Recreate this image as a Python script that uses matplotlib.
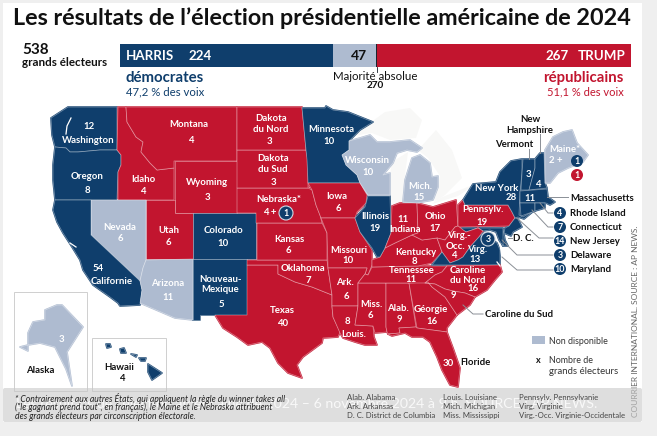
import matplotlib
matplotlib.use('Agg')
import matplotlib.pyplot as plt
from matplotlib.patches import Polygon, Circle, Rectangle, FancyBboxPatch

BLUE = '#0f3e6c'
RED = '#c2152f'
GREY = '#aebbd0'
colors = {'D': BLUE, 'R': RED, 'N': GREY}

plt.rcParams['font.family'] = ['Lato', 'DejaVu Sans']

# resultats
bar_names = ['HARRIS', 'Non disponible', 'TRUMP']
bar_votes = [224, 47, 267]
bar_colors = [BLUE, GREY, RED]
total_votes = 538
majority = 270

winner = {
    'WA': 'D', 'OR': 'D', 'CA': 'D', 'CO': 'D', 'NM': 'D', 'MN': 'D', 'IL': 'D', 'NY': 'D',
    'VT': 'D', 'NH': 'D', 'MA': 'D', 'RI': 'D', 'CT': 'D', 'NJ': 'D', 'DE': 'D', 'MD': 'D',
    'VA': 'D', 'HI1': 'D', 'HI2': 'D', 'HI3': 'D', 'HI4': 'D', 'HI5': 'D',
    'NV': 'N', 'AZ': 'N', 'WI': 'N', 'MI': 'N', 'ME': 'N', 'AK': 'N',
    'ID': 'R', 'MT': 'R', 'WY': 'R', 'UT': 'R', 'ND': 'R', 'SD': 'R', 'NE': 'R', 'KS': 'R',
    'OK': 'R', 'TX': 'R', 'IA': 'R', 'MO': 'R', 'AR': 'R', 'LA': 'R', 'MS': 'R', 'AL': 'R',
    'GA': 'R', 'FL': 'R', 'TN': 'R', 'KY': 'R', 'IN': 'R', 'OH': 'R', 'WV': 'R', 'PA': 'R',
    'NC': 'R', 'SC': 'R',
}

# contours des Etats, en pixels de la carte
shapes = {
    'WA': [(68, 107), (117, 107), (117, 150), (100, 150), (78, 152), (70, 152), (66, 148), (55, 147), (52, 135), (51, 118)],
    'OR': [(55, 147), (66, 148), (70, 152), (78, 152), (100, 150), (117, 150), (121, 155), (121, 165), (118, 172), (117, 200), (55, 200), (53, 180), (53, 165)],
    'ID': [(118, 107), (126, 107), (127, 122), (136, 137), (143, 142), (141, 152), (150, 163), (157, 170), (174, 168), (174, 200), (118, 200), (118, 172), (121, 165), (121, 155), (117, 150)],
    'MT': [(126, 107), (237, 107), (237, 161), (174, 161), (174, 168), (157, 170), (150, 163), (141, 152), (143, 142), (136, 137), (127, 122)],
    'WY': [(175, 161), (237, 161), (237, 213), (175, 213)],
    'UT': [(146, 200), (175, 200), (175, 213), (193, 213), (193, 259), (146, 259)],
    'CO': [(193, 213), (256, 213), (256, 259), (193, 259)],
    'NV': [(91, 200), (146, 200), (146, 260), (143, 268), (140, 281), (91, 235)],
    'CA': [(55, 200), (91, 200), (91, 235), (140, 281), (142, 290), (140, 305), (120, 306), (118, 303), (110, 297), (93, 285), (83, 270), (80, 260), (72, 247), (63, 233), (57, 222), (53, 210)],
    'AZ': [(146, 260), (193, 259), (193, 320), (175, 318), (140, 303), (142, 290), (140, 281), (143, 268)],
    'NM': [(193, 259), (247, 259), (247, 315), (200, 315), (200, 320), (193, 320)],
    'TX': [(247, 265), (278, 265), (278, 274), (295, 282), (312, 287), (332, 295), (332, 307), (333, 317), (340, 332), (338, 337), (323, 338), (322, 343), (303, 357), (297, 365), (302, 378), (288, 373), (278, 363), (270, 348), (262, 342), (248, 345), (237, 337), (223, 328), (215, 315), (247, 315)],
    'OK': [(247, 260), (327, 260), (328, 268), (332, 295), (312, 287), (295, 282), (278, 274), (278, 265), (247, 265)],
    'KS': [(257, 223), (322, 223), (327, 233), (327, 260), (257, 260)],
    'NE': [(237, 188), (308, 188), (312, 190), (316, 205), (320, 215), (322, 223), (256, 223), (256, 213), (237, 213)],
    'SD': [(237, 150), (306, 150), (308, 160), (308, 188), (237, 188)],
    'ND': [(237, 107), (302, 107), (306, 150), (237, 150)],
    'MN': [(302, 108), (325, 108), (326, 106), (333, 110), (348, 112), (373, 122), (360, 130), (349, 141), (349, 150), (342, 155), (346, 165), (357, 175), (360, 183), (308, 183), (307, 160), (306, 150)],
    'IA': [(308, 183), (360, 183), (367, 195), (366, 203), (357, 212), (355, 218), (321, 218), (316, 205), (312, 190)],
    'MO': [(321, 218), (355, 218), (360, 232), (372, 250), (372, 265), (368, 275), (365, 274), (367, 268), (328, 268), (327, 233)],
    'AR': [(328, 268), (367, 268), (365, 274), (358, 283), (358, 306), (332, 306), (332, 295)],
    'LA': [(332, 306), (358, 306), (355, 325), (373, 326), (374, 337), (377, 345), (365, 345), (355, 342), (343, 338), (340, 333), (333, 317)],
    'MS': [(358, 283), (386, 283), (386, 327), (387, 332), (375, 333), (373, 326), (355, 325), (358, 306)],
    'AL': [(386, 283), (409, 283), (416, 327), (399, 328), (400, 333), (388, 334), (387, 332), (386, 327)],
    'GA': [(409, 283), (428, 282), (432, 287), (445, 297), (457, 315), (447, 328), (447, 332), (417, 328)],
    'FL': [(388, 334), (400, 333), (399, 328), (416, 327), (417, 328), (447, 332), (453, 348), (460, 368), (458, 387), (450, 385), (442, 370), (437, 357), (430, 342), (423, 337), (412, 337), (405, 333), (392, 336)],
    'TN': [(372, 267), (418, 266), (447, 266), (442, 272), (435, 275), (425, 283), (409, 283), (358, 283), (365, 274), (368, 275)],
    'KY': [(372, 265), (372, 260), (380, 257), (385, 248), (395, 243), (412, 235), (422, 240), (437, 238), (442, 252), (432, 263), (418, 266), (372, 267)],
    'IL': [(368, 196), (390, 196), (391, 233), (385, 248), (380, 257), (377, 257), (372, 248), (360, 232), (355, 218), (365, 207)],
    'IN': [(392, 206), (400, 203), (417, 203), (418, 233), (412, 235), (395, 243), (385, 248), (391, 233)],
    'OH': [(417, 203), (433, 207), (456, 200), (458, 226), (455, 227), (445, 240), (437, 238), (422, 240), (412, 235), (418, 233)],
    'MI': [(403, 202), (405, 180), (412, 158), (420, 155), (430, 163), (432, 177), (438, 176), (438, 187), (433, 200), (417, 203)],
    'WI': [(349, 141), (360, 138), (370, 135), (377, 142), (390, 142), (410, 140), (422, 148), (417, 152), (407, 150), (397, 153), (393, 163), (383, 175), (390, 173), (390, 195), (368, 195), (360, 183), (357, 175), (346, 165), (342, 155), (349, 150)],
    'PA': [(458, 205), (463, 200), (465, 205), (508, 205), (512, 212), (515, 218), (509, 226), (458, 227)],
    'NY': [(463, 200), (473, 184), (496, 182), (500, 172), (511, 161), (522, 159), (522, 173), (520, 192), (519, 215), (523, 217), (535, 210), (524, 219), (518, 217), (515, 218), (512, 212), (508, 205), (465, 205)],
    'VT': [(523, 159), (535, 159), (535, 168), (529, 190), (521, 190), (522, 173)],
    'NH': [(535, 159), (540, 153), (544, 153), (545, 183), (547, 188), (529, 190), (535, 168)],
    'ME': [(545, 150), (553, 137), (563, 132), (572, 130), (577, 143), (588, 155), (583, 162), (568, 168), (558, 173), (550, 183), (545, 183)],
    'MA': [(520, 191), (547, 189), (548, 197), (555, 202), (550, 205), (546, 203), (520, 203)],
    'CT': [(520, 203), (535, 203), (535, 211), (521, 216)],
    'RI': [(535, 203), (545, 203), (545, 208), (535, 211)],
    'NJ': [(515, 218), (518, 219), (522, 227), (513, 232), (511, 236), (504, 233), (505, 228), (509, 226)],
    'DE': [(503, 229), (505, 240), (508, 246), (503, 246), (502, 238)],
    'MD': [(459, 228), (503, 228), (503, 246), (499, 240), (496, 232), (490, 230), (483, 231), (478, 228), (466, 232)],
    'WV': [(458, 226), (466, 232), (478, 228), (483, 231), (479, 237), (470, 247), (463, 257), (458, 260), (450, 263), (442, 252), (437, 238), (445, 240), (455, 227)],
    'VA': [(432, 265), (442, 252), (450, 263), (458, 260), (463, 257), (470, 247), (479, 237), (483, 233), (497, 243), (500, 250), (500, 265)],
    'NC': [(447, 266), (500, 265), (502, 272), (495, 280), (487, 290), (475, 297), (465, 293), (453, 291), (445, 289), (435, 284), (425, 283), (435, 275), (442, 272)],
    'SC': [(425, 283), (435, 284), (445, 289), (453, 291), (465, 293), (475, 297), (470, 305), (457, 315), (445, 297), (432, 287), (428, 282)],
    'AK': [(57, 305), (62, 305), (83, 327), (67, 352), (72, 386), (66, 369), (60, 357), (55, 347), (40, 343), (28, 345), (20, 347), (28, 351), (28, 333), (33, 322), (45, 320), (45, 310)],
    'HI1': [(148, 364), (162, 373), (152, 380), (148, 372)],
    'HI2': [(106, 344), (110, 344), (111, 347), (107, 348)],
    'HI3': [(120, 349), (124, 348), (126, 353), (121, 353)],
    'HI4': [(131, 354), (137, 355), (136, 357)],
    'HI5': [(139, 358), (146, 358), (145, 361), (141, 361)],
}

lakes = [
    [(352, 136), (385, 112), (410, 108), (422, 120), (416, 138), (390, 140), (372, 133)],
    [(392, 162), (408, 152), (403, 190), (404, 204), (392, 204), (388, 186)],
    [(418, 150), (436, 130), (452, 150), (462, 178), (445, 195), (434, 202), (440, 176), (428, 158)],
    [(432, 204), (458, 196), (470, 188), (476, 182), (480, 182), (440, 198)],
]

# texte sur la carte : nom, x, y
map_labels = [
    ('12', 89, 126), ('Washington', 88, 140), ('Oregon', 87, 176), ('8', 87, 190),
    ('Idaho', 143, 179), ('4', 143, 191), ('Montana', 189, 124), ('4', 191, 140),
    ('Dakota', 271, 118), ('du Nord', 271, 129), ('3', 269, 141),
    ('Dakota', 273, 158), ('du Sud', 273, 169), ('3', 273, 182),
    ('Wyoming', 207, 182), ('3', 207, 197), ('Nebraska*', 279, 199), ('4 +', 270, 212),
    ('Nevada', 120, 227), ('6', 120, 238), ('Utah', 169, 230), ('6', 168, 242),
    ('Colorado', 223, 230), ('10', 223, 243), ('Kansas', 289, 239), ('6', 288, 250),
    ('Oklahoma', 303, 268), ('7', 308, 280), ('Nouveau-', 220, 279), ('Mexique', 220, 289), ('5', 221, 304),
    ('54', 98, 268), ('Californie', 112, 281), ('Arizona', 168, 283), ('11', 168, 297),
    ('Texas', 282, 310), ('40', 283, 323), ('Missouri', 349, 250), ('10', 348, 260),
    ('Ark.', 345, 282), ('6', 346, 296), ('Iowa', 337, 196), ('6', 338, 208),
    ('Illinois', 375, 216), ('19', 375, 228), ('11', 403, 219), ('Indiana', 405, 229),
    ('Ohio', 435, 216), ('17', 435, 228), ('Kentucky', 416, 252), ('8', 414, 261),
    ('Tennessee', 412, 270), ('11', 411, 279), ('Miss.', 371, 304), ('6', 370, 315),
    ('Alab.', 398, 308), ('9', 399, 319), ('Géorgie', 431, 309), ('16', 432, 321),
    ('Louis.', 354, 334), ('8', 347, 321), ('30', 448, 363), ('9', 453, 295),
    ('Pennsylv.', 483, 209), ('19', 482, 222), ('New York', 497, 188), ('28', 511, 197),
    ('11', 530, 198), ('3', 528, 174), ('4', 538, 184), ('Maine*', 565, 149), ('2 +', 556, 160),
    ('Wisconsin', 367, 160), ('10', 368, 172), ('Mich.', 420, 186), ('15', 419, 197),
    ('Minnesota', 331, 129), ('10', 329, 141), ('Virg.-', 459, 235), ('Occ.', 455, 246), ('4', 454, 255),
    ('Virg.', 477, 249), ('13', 475, 259), ('Caroline', 468, 270), ('du Nord', 468, 280), ('16', 473, 288),
    ('3', 61, 339),
]
outside_labels = [
    ('New', 530, 119), ('Hampshire', 530, 130), ('Vermont', 514, 144), ('D. C.', 523, 238),
    ('Alaska', 40, 370), ('Hawaii', 119, 367), ('4', 122, 378),
]
# petits Etats de l'Est : nom, voix, y
east_names = ['Rhode Island', 'Connecticut', 'New Jersey', 'Delaware', 'Maryland']
east_votes = [4, 7, 14, 3, 10]
east_y = [213, 227, 241, 255, 269]

leaders = [
    [(540, 134), (540, 153)], [(529, 149), (529, 159)], [(547, 197), (568, 197)],
    [(540, 203), (544, 208), (548, 213), (553, 213)], [(532, 210), (548, 227), (553, 227)],
    [(517, 218), (539, 238), (553, 238)], [(502, 240), (517, 255), (553, 255)],
    [(502, 257), (517, 270), (553, 270)], [(508, 238), (512, 238)],
    [(463, 305), (473, 314), (483, 314)],
]

abbrev_x = [347, 443, 519]
abbrev_lines = [
    ['Alab. Alabama', 'Ark. Arkansas', 'D. C. District de Columbia'],
    ['Louis. Louisiane', 'Mich. Michigan', 'Miss. Mississippi'],
    ['Pennsylv. Pennsylvanie', 'Virg. Virginie', 'Virg.-Occ. Virginie-Occidentale'],
]
abbrev_y = [397, 406, 415]
note_lines = [
    '* Contrairement aux autres États, qui appliquent la règle du winner takes all',
    '("le gagnant prend tout", en français), le Maine et le Nebraska attribuent',
    'des grands électeurs par circonscription électorale.',
]

fig = plt.figure(figsize=(6.57, 4.36), dpi=100, facecolor='#efefef')
ax = fig.add_axes([0, 0, 1, 1])
ax.set_xlim(0, 657)
ax.set_ylim(436, 0)
ax.axis('off')

ax.add_patch(Rectangle((3, 3), 639, 419, fc='white', ec='none', zorder=0))

for lake in lakes:
    ax.add_patch(Polygon(lake, fc='#f8f8f7', ec='none', zorder=1))

# une couche de la meme couleur sous les contours bouche les petits trous entre Etats
for name, pts in shapes.items():
    c = colors[winner[name]]
    ax.add_patch(Polygon(pts, closed=True, fc=c, ec=c, lw=1.2, zorder=1.5, joinstyle='round'))
for name, pts in shapes.items():
    ax.add_patch(Polygon(pts, closed=True, fc=colors[winner[name]], ec=(1, 1, 1, 0.42), lw=0.55, zorder=2, joinstyle='round'))

# petites entailles de la cote
for cut in [[(71, 118), (67, 126), (66, 134)], [(70, 243), (76, 247)], [(500, 244), (502, 258)], [(497, 262), (500, 266)]]:
    ax.plot(*zip(*cut), color='white', lw=0.9, zorder=3)

for x0, y0, x1, y1 in [(14, 292, 87, 391), (92, 338, 166, 391)]:
    ax.add_patch(Rectangle((x0, y0), x1 - x0, y1 - y0, fc='none', ec='#cfcfcf', lw=0.7, zorder=1))

for txt, x, y in map_labels:
    ax.text(x, y, txt, color='white', fontsize=6.9, fontweight='bold', ha='center', va='center', zorder=5)
for txt, x, y in outside_labels:
    ax.text(x, y, txt, color='#111111', fontsize=6.9, fontweight='bold', ha='center', va='center', zorder=5)

for pts in leaders:
    ax.plot(*zip(*pts), color='#8a8f96', lw=0.7, zorder=3)


def badge(x, y, txt, col, ring=False):
    if ring:
        ax.add_patch(Circle((x, y), 7.0, fc=col, ec='#cfd8e3', lw=0.8, zorder=6))
    else:
        ax.add_patch(Circle((x, y), 6.0, fc=col, ec='none', zorder=6))
    ax.text(x, y, txt, color='white', fontsize=6.4, fontweight='bold', ha='center', va='center', zorder=7)


badge(286, 213, '1', BLUE, ring=True)
badge(577, 161, '1', BLUE)
badge(577, 175, '1', RED)
badge(488, 239, '3', BLUE, ring=True)
for nm, v, y in zip(east_names, east_votes, east_y):
    badge(560, y, str(v), BLUE)
    ax.text(570, y, nm, color='#111111', fontsize=6.9, fontweight='bold', va='center', zorder=5)
ax.text(570, 198, 'Massachusetts', color='#111111', fontsize=6.9, fontweight='bold', va='center')
ax.text(485, 314, 'Caroline du Sud', color='#111111', fontsize=6.9, fontweight='bold', va='center')
ax.text(460, 362, 'Floride', color='#111111', fontsize=6.9, fontweight='bold', va='center')

# legende
ax.add_patch(Rectangle((532, 336), 13, 8, fc=GREY, ec='none'))
ax.text(549, 341, 'Non disponible', color='#333333', fontsize=6.4, va='center')
ax.text(538, 360, 'x', color='#111111', fontsize=6.5, fontweight='bold', ha='center', va='center')
ax.text(549, 360, 'Nombre de', color='#333333', fontsize=6.4, va='center')
ax.text(549, 371, 'grands électeurs', color='#333333', fontsize=6.9, va='center')

# titre et en-tete
ax.text(13, 18, "Les résultats de l’élection présidentielle américaine de 2024", color='#111111',
        fontsize=16.8, fontweight='bold', va='center')
ax.text(22, 50, str(total_votes), color='#111111', fontsize=11, fontweight='bold', va='center')
ax.text(22, 63, 'grands électeurs', color='#111111', fontsize=8.4, fontweight='bold', va='center')

bar_ax = fig.add_axes([120 / 657, 1 - 67 / 436, 511 / 657, 23 / 436])
left = 0
for name, v, c in zip(bar_names, bar_votes, bar_colors):
    bar_ax.barh(0, v, left=left, height=1, color=c)
    left += v
bar_ax.set_xlim(0, total_votes)
bar_ax.set_ylim(-0.5, 0.5)
bar_ax.axis('off')
bar_ax.axvline(majority, color='#17202a', lw=0.7)
ax.plot([376.5, 376.5], [67, 72], color='#17202a', lw=0.6)

bar_ax.text(6, 0, 'HARRIS', color='white', fontsize=9.6, fontweight='bold', va='center')
bar_ax.text(72, 0, str(bar_votes[0]), color='white', fontsize=9.6, fontweight='bold', va='center')
bar_ax.text(252, 0, str(bar_votes[1]), color='#111111', fontsize=10, fontweight='bold', ha='center', va='center')
bar_ax.text(448, 0, str(bar_votes[2]), color='white', fontsize=9.6, fontweight='bold', va='center')
bar_ax.text(532, 0, 'TRUMP', color='white', fontsize=9.6, fontweight='bold', ha='right', va='center')

ax.text(126, 78, 'démocrates', color=BLUE, fontsize=10.8, fontweight='bold', va='center')
ax.text(126, 92, '47,2 % des voix', color=BLUE, fontsize=8.2, va='center')
ax.text(624, 78, 'républicains', color=RED, fontsize=10.8, fontweight='bold', ha='right', va='center')
ax.text(624, 92, '51,1 % des voix', color=RED, fontsize=8.0, ha='right', va='center')
ax.text(375, 76, 'Majorité absolue', color='#111111', fontsize=8.3, ha='center', va='center', zorder=8)
ax.text(375, 86, str(majority), color='#111111', fontsize=7.2, fontweight='bold', ha='center', va='center', zorder=8)

ax.text(636, 417, 'COURRIER INTERNATIONAL. SOURCE : AP NEWS.', color='#666666', fontsize=6.0,
        rotation=90, ha='center', va='bottom')

# bandeau de legende de la photo par-dessus le bas de la carte
ax.add_patch(FancyBboxPatch((5, 390), 635, 30, boxstyle='round,pad=2', fc='#c8c8c8', ec='none', alpha=0.6, zorder=9))
ax.text(16, 404, "Les résultats de l’élection américaine de 2024 – 6 novembre 2024 à 9 h. SOURCE : AP NEWS.",
        color='white', fontsize=10.2, va='center', alpha=0.8, zorder=10)

for line, y in zip(note_lines, [398, 407, 416]):
    ax.text(15, y, line, color='#222222', fontsize=6.2, style='italic', va='center', zorder=11)
for x, lines in zip(abbrev_x, abbrev_lines):
    for line, y in zip(lines, abbrev_y):
        ax.text(x, y, line, color='#444444', fontsize=5.6, va='center', zorder=11)

fig.savefig('out.png', dpi=100, facecolor=fig.get_facecolor())
